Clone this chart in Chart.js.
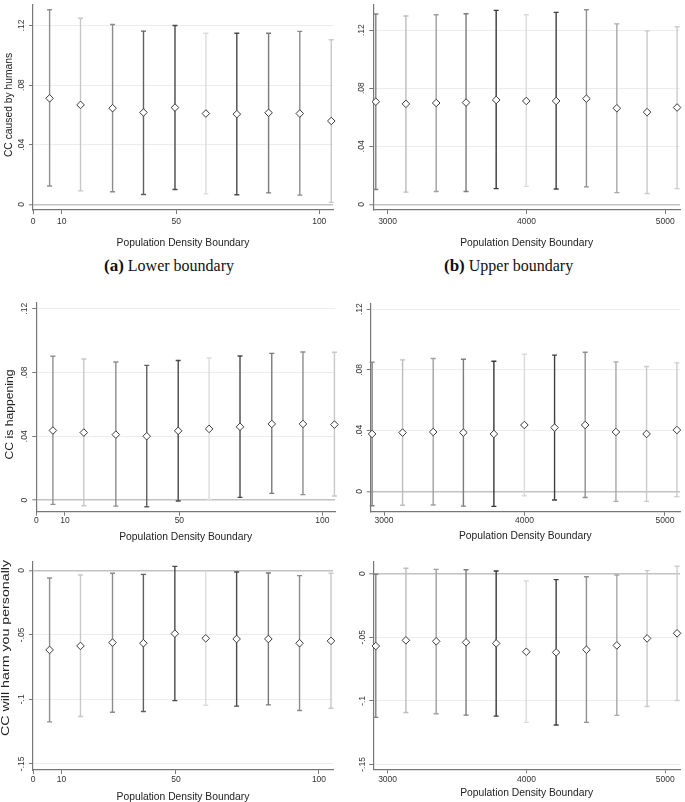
<!DOCTYPE html>
<html>
<head>
<meta charset="utf-8">
<script src="https://cdn.jsdelivr.net/npm/chart.js@4.4.1/dist/chart.umd.min.js"></script>
<style>
  body { margin: 0; background: #fff; }
  #wrap { position: relative; width: 685px; height: 802px; overflow: hidden; }
  canvas { position: absolute; }
  .cap { position: absolute; font-family: "Liberation Serif", "Times New Roman", serif; font-size: 16px; color: #111; line-height: 16px; white-space: nowrap; }
  .cap b { font-size: 17px; }
</style>
</head>
<body>
<div id="wrap">
  <canvas id="pa"></canvas>
  <canvas id="pb"></canvas>
  <canvas id="pc"></canvas>
  <canvas id="pd"></canvas>
  <canvas id="pe"></canvas>
  <canvas id="pf"></canvas>
  <div class="cap" style="left:104px; top:258px;"><b>(a)</b> Lower boundary</div>
  <div class="cap" style="left:444px; top:258px;"><b>(b)</b> Upper boundary</div>
</div>
<script>
// boundary values on the x axis
const lowerBoundary = [5.8, 16.6, 27.8, 38.6, 49.6, 60.4, 71.2, 82.3, 93.2, 104.2];
const upperBoundary = [2915, 3132, 3350, 3565, 3782, 3999, 4214, 4432, 4651, 4869, 5085];

// CC caused by humans
const humansLowerEst = [0.0711, 0.0667, 0.0645, 0.0616, 0.0649, 0.0609, 0.0605, 0.0614, 0.0609, 0.0559];
const humansLowerHi  = [0.1305, 0.1248, 0.1206, 0.1162, 0.1199, 0.1148, 0.1148, 0.1148, 0.1160, 0.1104];
const humansLowerLo  = [0.0123, 0.0090, 0.0084, 0.0066, 0.0099, 0.0070, 0.0064, 0.0077, 0.0062, 0.0013];
const humansUpperEst = [0.0707, 0.0692, 0.0698, 0.0701, 0.0719, 0.0712, 0.0712, 0.0728, 0.0662, 0.0635, 0.0667];
const humansUpperHi  = [0.1311, 0.1297, 0.1306, 0.1313, 0.1336, 0.1306, 0.1322, 0.1340, 0.1243, 0.1195, 0.1223];
const humansUpperLo  = [0.0102, 0.0084, 0.0088, 0.0088, 0.0108, 0.0124, 0.0106, 0.0120, 0.0081, 0.0075, 0.0108];

// CC is happening
const happeningLowerEst = [0.0436, 0.0423, 0.0410, 0.0400, 0.0434, 0.0446, 0.0459, 0.0477, 0.0477, 0.0473];
const happeningLowerHi  = [0.0901, 0.0884, 0.0865, 0.0844, 0.0875, 0.0890, 0.0903, 0.0919, 0.0928, 0.0926];
const happeningLowerLo  = [-0.0027, -0.0036, -0.0038, -0.0042, -0.0006, 0.0004, 0.0017, 0.0042, 0.0034, 0.0025];
const happeningUpperEst = [0.0378, 0.0387, 0.0391, 0.0387, 0.0378, 0.0437, 0.0420, 0.0437, 0.0391, 0.0378, 0.0404];
const happeningUpperHi  = [0.0851, 0.0866, 0.0875, 0.0870, 0.0857, 0.0903, 0.0897, 0.0916, 0.0853, 0.0822, 0.0846];
const happeningUpperLo  = [-0.0095, -0.0092, -0.0090, -0.0097, -0.0099, -0.0029, -0.0057, -0.0040, -0.0066, -0.0066, -0.0035];

// CC will harm you personally
const harmLowerEst = [-0.0617, -0.0586, -0.0560, -0.0565, -0.0491, -0.0527, -0.0532, -0.0532, -0.0565, -0.0547];
const harmLowerHi  = [-0.0059, -0.0036, -0.0023, -0.0031, 0.0031, -0.0008, -0.0013, -0.0021, -0.0041, -0.0023];
const harmLowerLo  = [-0.1175, -0.1133, -0.1100, -0.1095, -0.1010, -0.1046, -0.1053, -0.1043, -0.1087, -0.1069];
const harmUpperEst = [-0.0569, -0.0524, -0.0532, -0.0540, -0.0548, -0.0614, -0.0619, -0.0598, -0.0564, -0.0509, -0.0469];
const harmUpperHi  = [-0.0005, 0.0042, 0.0034, 0.0031, 0.0021, -0.0058, -0.0047, -0.0024, -0.0010, 0.0024, 0.0058];
const harmUpperLo  = [-0.1130, -0.1091, -0.1101, -0.1112, -0.1120, -0.1169, -0.1190, -0.1169, -0.1114, -0.1044, -0.0997];

// ticks
const xTicksLower = [0, 10, 50, 100];
const xLabelsLower = ['0', '10', '50', '100'];
const xTicksUpper = [3000, 4000, 5000];
const xLabelsUpper = ['3000', '4000', '5000'];
const yTicksPos = [0, 0.04, 0.08, 0.12];
const yLabelsPos = ['0', '.04', '.08', '.12'];
const yTicksNeg = [-0.15, -0.1, -0.05, 0];
const yLabelsNeg = ['-.15', '-.1', '-.05', '0'];

// gray shade of each interval
const shadesLower = ['#909090', '#c8c8c8', '#8c8c8c', '#606060', '#4a4a4a', '#dcdcdc', '#4a4a4a', '#7a7a7a', '#8c8c8c', '#c8c8c8'];
const shadesUpper = ['#808080', '#bdbdbd', '#a0a0a0', '#7c7c7c', '#383838', '#dadada', '#404040', '#909090', '#a8a8a8', '#cacaca', '#cccccc'];

const errorBars = {
  id: 'errorBars',
  beforeDatasetsDraw(chart) {
    const { ctx, scales: { x, y } } = chart;
    const ds = chart.data.datasets[0];
    ctx.save();
    ctx.lineWidth = 1.4;
    ds.data.forEach((pt, i) => {
      const px = x.getPixelForValue(pt.x);
      const top = y.getPixelForValue(ds.hi[i]);
      const bot = y.getPixelForValue(ds.lo[i]);
      ctx.strokeStyle = ds.shades[i];
      ctx.beginPath();
      ctx.moveTo(px, top); ctx.lineTo(px, bot);
      ctx.moveTo(px - 2.5, top); ctx.lineTo(px + 2.5, top);
      ctx.moveTo(px - 2.5, bot); ctx.lineTo(px + 2.5, bot);
      ctx.stroke();
    });
    ctx.restore();
  }
};

// stata-style vertical y labels and y title
const yAxisText = {
  id: 'yAxisText',
  afterDraw(chart, args, opts) {
    const { ctx, chartArea } = chart;
    const y = chart.scales.y;
    ctx.save();
    ctx.fillStyle = '#333';
    ctx.textAlign = 'center';
    ctx.textBaseline = 'middle';
    ctx.font = '8.5px "Liberation Sans", Arial, sans-serif';
    y.ticks.forEach((t, i) => {
      ctx.save();
      ctx.translate(chartArea.left - opts.labelGap, y.getPixelForValue(t.value));
      ctx.rotate(-Math.PI / 2);
      ctx.fillText(t.label != null ? t.label : opts.labels[i], 0, 0);
      ctx.restore();
    });
    if (opts.title) {
      ctx.fillStyle = '#222';
      ctx.font = '10.3px "Liberation Sans", Arial, sans-serif';
      ctx.translate(opts.titleX, opts.titleY);
      ctx.rotate(-Math.PI / 2);
      ctx.scale(opts.stretch, 1);
      ctx.fillText(opts.title, 0, 0);
    }
    ctx.restore();
  }
};

const panels = [
  { id: 'pa', xs: lowerBoundary, est: humansLowerEst, lo: humansLowerLo, hi: humansLowerHi, shades: shadesLower,
    xMin: 0, xMax: 104.8, yMin: -0.0038, yMax: 0.1337, xTicks: xTicksLower, xLabels: xLabelsLower, yTicks: yTicksPos, yLabels: yLabelsPos,
    title: 'CC caused by humans',
    layout: { left: 0, top: 0, w: 340, h: 252, area: [33, 2, 333, 210], tickPad: 2.6, titlePad: 2.7, labelGap: 11, titleX: 9.5, titleY: 105, stretch: 1 } },
  { id: 'pb', xs: upperBoundary, est: humansUpperEst, lo: humansUpperLo, hi: humansUpperHi, shades: shadesUpper,
    xMin: 2897, xMax: 5106, yMin: -0.0039, yMax: 0.1373, xTicks: xTicksUpper, xLabels: xLabelsUpper, yTicks: yTicksPos, yLabels: yLabelsPos,
    title: null,
    layout: { left: 340, top: 0, w: 345, h: 252, area: [33.3, 2, 343, 210], tickPad: 2.6, titlePad: 2.7, labelGap: 12 } },
  { id: 'pc', xs: lowerBoundary, est: happeningLowerEst, lo: happeningLowerLo, hi: happeningLowerHi, shades: shadesLower,
    xMin: 0, xMax: 104.4, yMin: -0.0073, yMax: 0.1235, xTicks: xTicksLower, xLabels: xLabelsLower, yTicks: yTicksPos, yLabels: yLabelsPos,
    title: 'CC is happening',
    layout: { left: 0, top: 296, w: 340, h: 250, area: [36.3, 7, 335, 215.7], tickPad: 0.2, titlePad: 2.4, labelGap: 12, titleX: 10, titleY: 118.5, stretch: 1.18 } },
  { id: 'pd', xs: upperBoundary, est: happeningUpperEst, lo: happeningUpperLo, hi: happeningUpperHi, shades: shadesUpper,
    xMin: 2905, xMax: 5107, yMin: -0.0134, yMax: 0.1234, xTicks: xTicksUpper, xLabels: xLabelsUpper, yTicks: yTicksPos, yLabels: yLabelsPos,
    title: null,
    layout: { left: 340, top: 296, w: 345, h: 250, area: [30.7, 8, 340, 215.7], tickPad: 0.2, titlePad: 3.7, labelGap: 11.4 } },
  { id: 'pe', xs: lowerBoundary, est: harmLowerEst, lo: harmLowerLo, hi: harmLowerHi, shades: shadesLower,
    xMin: 0, xMax: 104.9, yMin: -0.1548, yMax: 0.0067, xTicks: xTicksLower, xLabels: xLabelsLower, yTicks: yTicksNeg, yLabels: yLabelsNeg,
    title: 'CC will harm you personally',
    layout: { left: 0, top: 552, w: 340, h: 250, area: [33, 9.7, 333, 218], tickPad: 0.9, titlePad: -1, labelGap: 11, titleX: 6.5, titleY: 96, stretch: 1.38 } },
  { id: 'pf', xs: upperBoundary, est: harmUpperEst, lo: harmUpperLo, hi: harmUpperHi, shades: shadesUpper,
    xMin: 2897, xMax: 5106, yMin: -0.1538, yMax: 0.0094, xTicks: xTicksUpper, xLabels: xLabelsUpper, yTicks: yTicksNeg, yLabels: yLabelsNeg,
    title: null,
    layout: { left: 340, top: 552, w: 345, h: 250, area: [33.3, 9.7, 343, 217.3], tickPad: 0.9, titlePad: 2.4, labelGap: 10.6 } }
];

Chart.defaults.font.family = '"Liberation Sans", Arial, sans-serif';
Chart.defaults.color = '#333';

panels.forEach(p => {
  const L = p.layout;
  const [aL, aT, aR, aB] = L.area;
  const canvas = document.getElementById(p.id);
  canvas.width = L.w;
  canvas.height = L.h;
  canvas.style.left = L.left + 'px';
  canvas.style.top = L.top + 'px';

  new Chart(canvas, {
    type: 'scatter',
    data: {
      datasets: [{
        data: p.est.map((v, i) => ({ x: p.xs[i], y: v })),
        lo: p.lo,
        hi: p.hi,
        shades: p.shades,
        pointStyle: 'rectRot',
        pointRadius: 3.8,
        pointBorderColor: '#3a3a3a',
        pointBorderWidth: 1,
        pointBackgroundColor: '#fff',
        clip: false
      }]
    },
    options: {
      responsive: false,
      animation: false,
      devicePixelRatio: 1,
      layout: { padding: { left: 0, top: aT, right: L.w - aR, bottom: 0 } },
      plugins: {
        legend: { display: false },
        tooltip: { enabled: false },
        yAxisText: { labelGap: L.labelGap, labels: p.yLabels, title: p.title, titleX: L.titleX, titleY: L.titleY, stretch: L.stretch }
      },
      scales: {
        x: {
          type: 'linear',
          min: p.xMin,
          max: p.xMax,
          afterBuildTicks: s => { s.ticks = p.xTicks.map(v => ({ value: v })); },
          afterFit: s => { s.height = L.h - aB; s.paddingLeft = 0; s.paddingRight = 0; },
          ticks: {
            font: { size: 8.5 },
            color: '#333',
            padding: L.tickPad,
            maxRotation: 0,
            callback: (v, i) => p.xLabels[i]
          },
          grid: { drawOnChartArea: false, drawTicks: true, tickLength: 4, tickColor: '#777', tickWidth: 1 },
          border: { color: '#777', width: 1.2 },
          title: {
            display: true,
            text: 'Population Density Boundary',
            font: { size: 10.3 },
            color: '#222',
            padding: { top: 0, bottom: L.titlePad }
          }
        },
        y: {
          type: 'linear',
          min: p.yMin,
          max: p.yMax,
          afterBuildTicks: s => { s.ticks = p.yTicks.map(v => ({ value: v })); },
          afterFit: s => { s.width = aL; s.paddingTop = 0; s.paddingBottom = 0; },
          ticks: { display: false, callback: (v, i) => p.yLabels[i] },
          grid: {
            color: c => (c.tick && c.tick.value === 0) ? '#c2c2c2' : '#ececec',
            lineWidth: c => (c.tick && c.tick.value === 0) ? 1.6 : 1,
            drawTicks: true,
            tickLength: 4,
            tickColor: '#777',
            tickWidth: 1
          },
          border: { color: '#777', width: 1.2 }
        }
      }
    },
    plugins: [errorBars, yAxisText]
  });
});
</script>
</body>
</html>
